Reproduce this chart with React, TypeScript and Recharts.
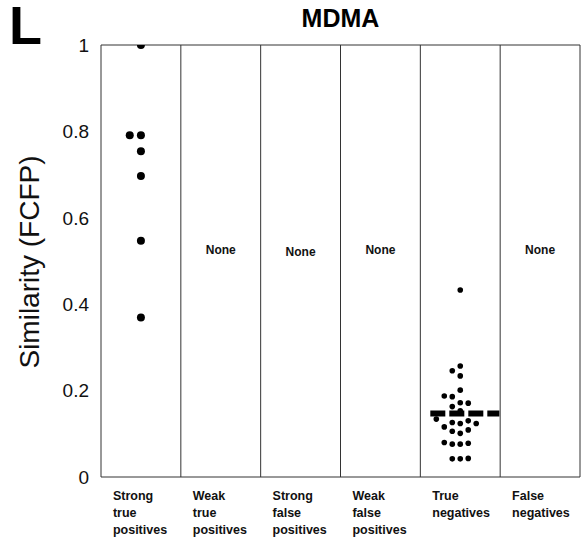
import React from "react";
import {
  ScatterChart,
  Scatter,
  XAxis,
  YAxis,
  ReferenceLine,
  ReferenceArea,
} from "recharts";

// Column categories (x axis), one per group of compounds
const CATEGORIES: string[][] = [
  ["Strong", "true", "positives"],
  ["Weak", "true", "positives"],
  ["Strong", "false", "positives"],
  ["Weak", "false", "positives"],
  ["True", "negatives"],
  ["False", "negatives"],
];

// Similarity values per column
const STRONG_TRUE_POSITIVES = [1.0, 0.791, 0.791, 0.754, 0.697, 0.547, 0.369];
const TRUE_NEGATIVES = [
  0.042, 0.042, 0.043, 0.076, 0.076, 0.078, 0.08, 0.101, 0.106, 0.109, 0.116,
  0.124, 0.124, 0.126, 0.13, 0.134, 0.153, 0.163, 0.171, 0.172, 0.186, 0.1875,
  0.201, 0.234, 0.246, 0.257, 0.433,
];
const TRUE_NEGATIVES_MEAN = 0.147;

// Empty columns carry a "None" note
const EMPTY_COLUMNS = [1, 2, 3, 5];
const NONE_LEVELS = [0.525, 0.52, 0.525, 0.525];

const Y_TICKS = [0, 0.2, 0.4, 0.6, 0.8, 1];

const FONT = "'Liberation Sans', Arial, Helvetica, sans-serif";

// Simple beeswarm: stack points sideways into slots so dots don't overlap
function swarm(
  values: number[],
  column: number,
  slotWidth: number,
  minGap: number
) {
  const order = [0, -1, 1, -2, 2, -3, 3, -4, 4];
  const placed: { slot: number; y: number }[] = [];
  const sorted = [...values].sort((a, b) => a - b);
  return sorted.map((y) => {
    let slot = 0;
    for (const s of order) {
      const clash = placed.some((p) => p.slot === s && Math.abs(p.y - y) < minGap);
      if (!clash) {
        slot = s;
        break;
      }
    }
    placed.push({ slot, y });
    return { x: column + 0.5 + slot * slotWidth, y };
  });
}

const strongData = swarm(STRONG_TRUE_POSITIVES, 0, 0.14, 0.025);
const trueNegData = swarm(TRUE_NEGATIVES, 4, 0.1, 0.0185);
const noneData = EMPTY_COLUMNS.map((c, i) => ({ x: c + 0.5, y: NONE_LEVELS[i] }));

const Dot = (r: number) => (props: any) =>
  <circle cx={props.cx} cy={props.cy} r={r} fill="#000" />;

const NoneText = (props: any) => (
  <text
    x={props.cx}
    y={props.cy}
    textAnchor="middle"
    dominantBaseline="central"
    fontFamily={FONT}
    fontWeight="bold"
    fontSize={12}
    fill="#111"
  >
    None
  </text>
);

const CategoryTick = (props: any) => {
  const { x, y, payload } = props;
  const lines = CATEGORIES[Math.round(payload.value - 0.5)] || [];
  const left = x - 28;
  return (
    <text
      x={left}
      y={y + 15}
      fontFamily={FONT}
      fontWeight="bold"
      fontSize={12.5}
      fill="#111"
    >
      {lines.map((l, i) => (
        <tspan key={i} x={left} dy={i === 0 ? 0 : 17}>
          {l}
        </tspan>
      ))}
    </text>
  );
};

export default function App() {
  return (
    <div
      style={{
        position: "absolute",
        left: 0,
        top: 0,
        width: 582,
        height: 539,
        background: "#fff",
        fontFamily: FONT,
        overflow: "hidden",
      }}
    >
      <ScatterChart
        width={582}
        height={539}
        margin={{ top: 45, right: 2, bottom: 0, left: 0 }}
      >
        <XAxis
          type="number"
          dataKey="x"
          domain={[0, 6]}
          ticks={[0.5, 1.5, 2.5, 3.5, 4.5, 5.5]}
          axisLine={false}
          tickLine={false}
          height={62}
          tick={<CategoryTick />}
          interval={0}
          allowDataOverflow
        />
        <YAxis
          type="number"
          dataKey="y"
          domain={[0, 1]}
          ticks={Y_TICKS}
          tickFormatter={(v: number) => String(v)}
          axisLine={false}
          tickLine={false}
          tickMargin={6}
          width={101}
          tick={{ fontSize: 19, fill: "#111", fontFamily: FONT }}
          allowDataOverflow
        />
        <ReferenceArea
          x1={0}
          x2={6}
          y1={0}
          y2={1}
          fill="none"
          stroke="#333"
          strokeWidth={1}
          ifOverflow="extendDomain"
        />
        {[1, 2, 3, 4, 5].map((c) => (
          <ReferenceLine key={c} x={c} stroke="#333" strokeWidth={1} />
        ))}
        <Scatter data={noneData} shape={NoneText} isAnimationActive={false} />
        <Scatter data={strongData} shape={Dot(4)} isAnimationActive={false} />
        <Scatter data={trueNegData} shape={Dot(2.8)} isAnimationActive={false} />
        <ReferenceLine
          segment={[
            { x: 4.125, y: TRUE_NEGATIVES_MEAN },
            { x: 4.99, y: TRUE_NEGATIVES_MEAN },
          ]}
          stroke="#000"
          strokeWidth={6}
          strokeDasharray="15 4"
        />
      </ScatterChart>

      {/* Panel letter */}
      <svg
        width={60}
        height={50}
        style={{ position: "absolute", left: 0, top: 0 }}
      >
        <text
          x={9}
          y={43.5}
          fontFamily={FONT}
          fontWeight="bold"
          fontSize={54}
          fill="#000"
        >
          L
        </text>
      </svg>
      <div
        style={{
          position: "absolute",
          left: 101,
          width: 479,
          top: 3,
          textAlign: "center",
          fontSize: 25,
          fontWeight: "bold",
          lineHeight: "30px",
          color: "#000",
        }}
      >
        MDMA
      </div>
      <div
        style={{
          position: "absolute",
          left: 30,
          top: 262,
          transform: "translate(-50%, -50%) rotate(-90deg)",
          fontSize: 28,
          whiteSpace: "nowrap",
          color: "#111",
          lineHeight: "30px",
        }}
      >
        Similarity (FCFP)
      </div>
    </div>
  );
}
